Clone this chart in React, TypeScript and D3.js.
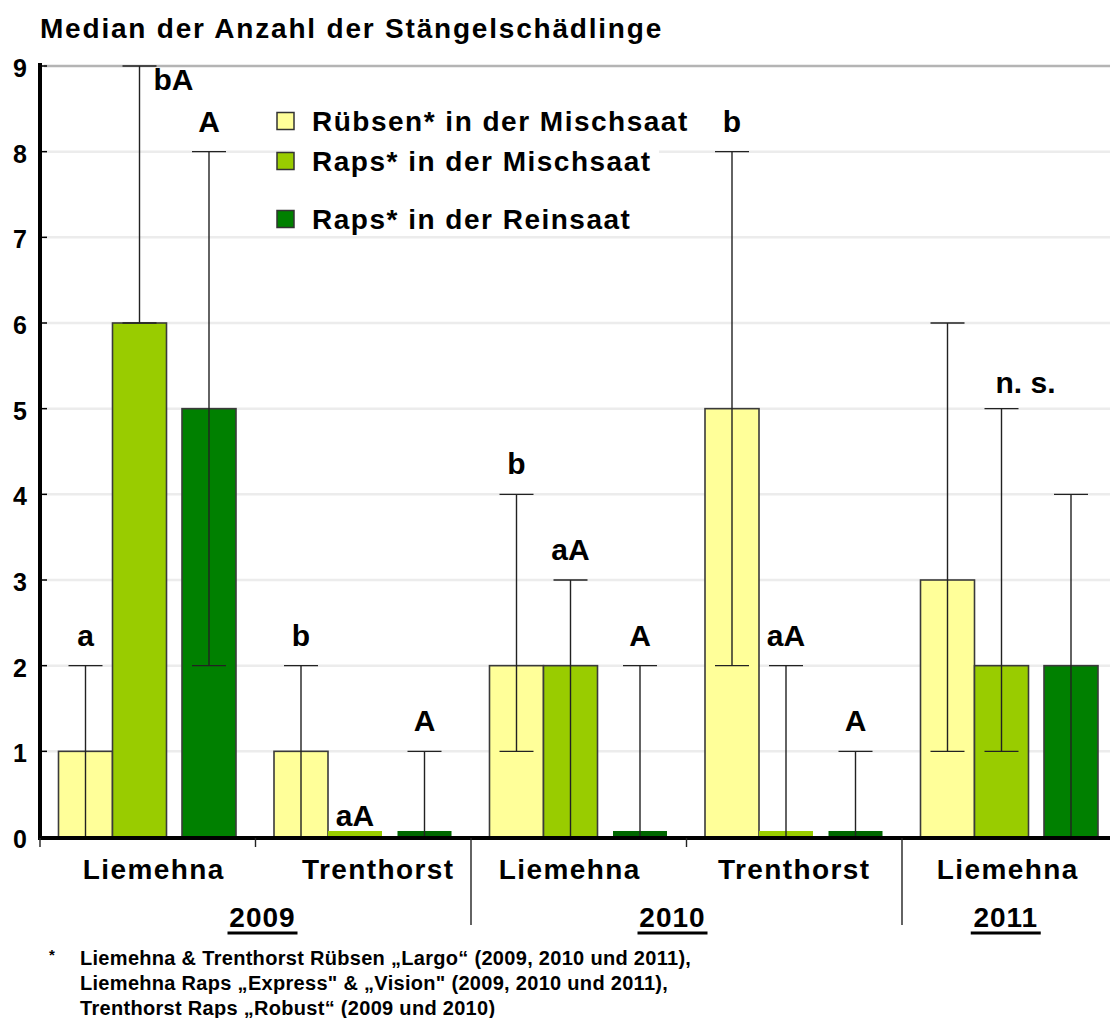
import React from "react";
import * as d3 from "d3";

// categories
const sites = ["Liemehna", "Trenthorst", "Liemehna", "Trenthorst", "Liemehna"];
const years = ["2009", "2009", "2010", "2010", "2011"];

const seriesNames = [
  "Rübsen* in der Mischsaat",
  "Raps* in der Mischsaat",
  "Raps* in der Reinsaat",
];

// medians
const ruebsenMisch = [1, 1, 2, 5, 3];
const rapsMisch = [6, 0, 2, 0, 2];
const rapsRein = [5, 0, 0, 0, 2];

// error bar ranges
const ruebsenLow = [0, 0, 1, 2, 1];
const ruebsenHigh = [2, 2, 4, 8, 6];
const rapsMischLow = [6, 0, 0, 0, 1];
const rapsMischHigh = [9, 0, 3, 2, 5];
const rapsReinLow = [2, 0, 0, 0, 0];
const rapsReinHigh = [8, 1, 2, 1, 4];

// significance letters
const ruebsenSig = ["a", "b", "b", "b", ""];
const rapsMischSig = ["bA", "aA", "aA", "aA", "n. s."];
const rapsReinSig = ["A", "A", "A", "A", ""];

const yTicks = [0, 1, 2, 3, 4, 5, 6, 7, 8, 9];

const footnote = [
  "Liemehna & Trenthorst Rübsen „Largo“ (2009, 2010 und 2011),",
  "Liemehna Raps „Express\" & „Vision\" (2009, 2010 und 2011),",
  "Trenthorst Raps „Robust“ (2009 und 2010)",
];

const colors = ["#FFFF99", "#99CC00", "#008000"];

export default function App() {
  const W = 1110;
  const H = 1018;
  const font = "'Liberation Sans', Arial, sans-serif";

  const y = d3.scaleLinear().domain([0, 9]).range([837, 66]);
  const x = d3.scaleBand<number>().domain(d3.range(sites.length)).range([40, 1117.5]);

  const seriesOffset = [18.5, 72.5, 142];
  const barW = 54;
  const capW = 34;

  const values = [ruebsenMisch, rapsMisch, rapsRein];
  const lows = [ruebsenLow, rapsMischLow, rapsReinLow];
  const highs = [ruebsenHigh, rapsMischHigh, rapsReinHigh];
  const sigs = [ruebsenSig, rapsMischSig, rapsReinSig];

  // small nudges for letters that don't sit right above the cap
  const nudge: Record<string, [number, number]> = {
    "0-1": [34, 44],
    "1-1": [0, 9],
    "4-1": [24, 4],
  };
  // label placement tweaks (the original labels are not exactly centred)
  const siteDx = [6, 15, -9, 0, -2];
  const yearDx: Record<string, number> = { "2009": 7, "2010": -14, "2011": -4 };

  const barX = (g: number, s: number) => (x(g) as number) + seriesOffset[s];

  const yearGroups = d3.groups(d3.range(sites.length), (i) => years[i]);

  const legendY = [121, 161, 219];

  return (
    <svg
      width={W}
      height={H}
      style={{ position: "absolute", left: 0, top: 0, background: "#fff" }}
      fontFamily={font}
      fontWeight="bold"
    >
      <text x={40} y={38} fontSize={28} style={{ letterSpacing: "1.8px" }}>
        Median der Anzahl der Stängelschädlinge
      </text>

      {/* grid */}
      {yTicks.filter((t) => t > 0).map((t) => (
        <line
          key={`g${t}`}
          x1={44}
          x2={W}
          y1={y(t)}
          y2={y(t)}
          stroke={t === 9 ? "#b4b4b4" : "#ececec"}
          strokeWidth={2.5}
        />
      ))}

      {/* legend */}
      {seriesNames.map((n, i) => (
        <g key={n}>
          <rect x={293} y={legendY[i] - 15} width={366} height={30} fill="#fff" />
          <rect
            x={277}
            y={legendY[i] - 8.5}
            width={17}
            height={17}
            fill={colors[i]}
            stroke="#333"
            strokeWidth={1.5}
          />
          <text x={312} y={legendY[i] + 10} fontSize={28} style={{ letterSpacing: "1.5px" }}>
            {n}
          </text>
        </g>
      ))}

      {/* bars */}
      {values.map((vals, s) =>
        vals.map((v, g) =>
          v > 0 ? (
            <rect
              key={`b${s}-${g}`}
              x={barX(g, s)}
              y={y(v)}
              width={barW}
              height={y(0) - y(v)}
              fill={colors[s]}
              stroke="#3a3a3a"
              strokeWidth={1.6}
            />
          ) : (
            <rect
              key={`b${s}-${g}`}
              x={barX(g, s)}
              y={y(0) - 6}
              width={barW}
              height={6}
              fill={s === 2 ? "#006600" : colors[s]}
            />
          )
        )
      )}

      {/* error bars */}
      {highs.map((hs, s) =>
        hs.map((hi, g) => {
          const lo = lows[s][g];
          if (hi === lo) return null;
          const cx = barX(g, s) + barW / 2;
          return (
            <g key={`e${s}-${g}`} stroke="#222" strokeWidth={1.4}>
              <line x1={cx} x2={cx} y1={y(hi)} y2={y(lo)} />
              <line x1={cx - capW / 2} x2={cx + capW / 2} y1={y(hi)} y2={y(hi)} />
              {lo > 0 && (
                <line x1={cx - capW / 2} x2={cx + capW / 2} y1={y(lo)} y2={y(lo)} />
              )}
            </g>
          );
        })
      )}

      {/* significance letters */}
      {sigs.map((ls, s) =>
        ls.map((l, g) => {
          if (!l) return null;
          const [dx, dy] = nudge[`${g}-${s}`] || [0, 0];
          const top = Math.max(highs[s][g], values[s][g]);
          return (
            <text
              key={`l${s}-${g}`}
              x={barX(g, s) + barW / 2 + dx}
              y={y(top) - 20 + dy}
              fontSize={30}
              textAnchor="middle"
            >
              {l}
            </text>
          );
        })
      )}

      {/* y axis */}
      {yTicks.map((t) => (
        <g key={`t${t}`}>
          <line x1={40} x2={47} y1={y(t)} y2={y(t)} stroke="#000" strokeWidth={1.5} />
          <text x={27} y={y(t) + 11} fontSize={25} textAnchor="end">
            {t}
          </text>
        </g>
      ))}
      <line x1={40} x2={40} y1={63} y2={840} stroke="#000" strokeWidth={4} />

      {/* x axis */}
      <line x1={38} x2={W} y1={838} y2={838} stroke="#000" strokeWidth={4} />
      {d3.range(sites.length).map((g) => {
        const sep = g > 0 && years[g] !== years[g - 1];
        return (
          <line
            key={`xt${g}`}
            x1={x(g) as number}
            x2={x(g) as number}
            y1={838}
            y2={sep ? 925 : 847}
            stroke="#222"
            strokeWidth={1.4}
          />
        );
      })}
      {sites.map((s, g) => (
        <text
          key={`s${g}`}
          x={(x(g) as number) + x.bandwidth() / 2 + siteDx[g]}
          y={879}
          fontSize={28}
          textAnchor="middle"
          style={{ letterSpacing: "1.4px" }}
        >
          {s}
        </text>
      ))}
      {yearGroups.map(([yr, idx]) => {
        const x0 = x(idx[0]) as number;
        const x1 = (x(idx[idx.length - 1]) as number) + x.bandwidth();
        const cx = (x0 + x1) / 2 + (yearDx[yr] || 0);
        return (
          <g key={yr}>
            <text x={cx} y={927} fontSize={28} textAnchor="middle" style={{ letterSpacing: "1px" }}>
              {yr}
            </text>
            <line x1={cx - 35} x2={cx + 35} y1={933} y2={933} stroke="#000" strokeWidth={3} />
          </g>
        );
      })}

      {/* footnote */}
      <text x={49} y={960} fontSize={15}>*</text>
      {footnote.map((f, i) => (
        <text key={`f${i}`} x={80} y={965 + i * 25} fontSize={20} style={{ letterSpacing: "0.3px" }}>
          {f}
        </text>
      ))}
    </svg>
  );
}
